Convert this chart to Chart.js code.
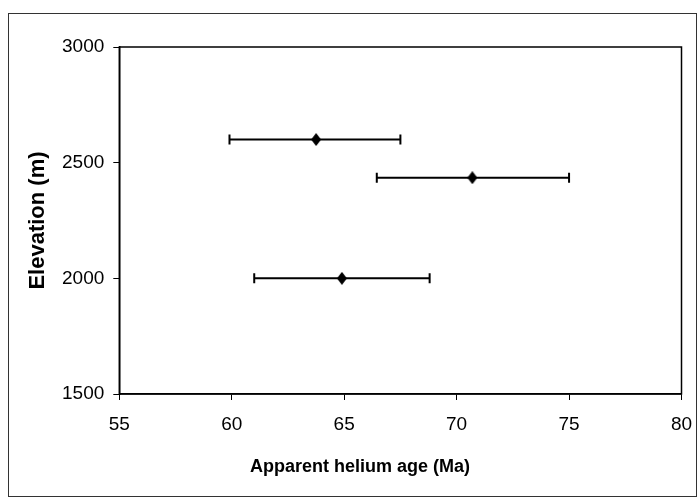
<!DOCTYPE html>
<html>
<head>
<meta charset="utf-8">
<title>Apparent helium age vs elevation</title>
<script src="https://cdn.jsdelivr.net/npm/chart.js@4.4.1/dist/chart.umd.min.js"></script>
<style>
  html, body { margin: 0; padding: 0; background: #fff; }
  #wrap { width: 698px; height: 502px; }
</style>
</head>
<body>
<div id="wrap"><canvas id="chart" width="698" height="502"></canvas></div>
<script>
// --- Data ---
const ages = [63.75, 70.7, 64.9];          // apparent helium age (Ma)
const elevations = [2600, 2435, 2000];     // elevation (m)
const ageLow = [59.9, 66.45, 61.0];        // left end of error bar
const ageHigh = [67.5, 75.0, 68.8];        // right end of error bar

const xTicks = [55, 60, 65, 70, 75, 80];
const yTicks = [1500, 2000, 2500, 3000];
const xTitle = "Apparent helium age (Ma)";
const yTitle = "Elevation (m)";

const FONT = "'Liberation Sans', Arial, sans-serif";

// diamond marker, a bit taller than wide like the scanned one
function makeDiamond(w, h) {
  const c = document.createElement("canvas");
  c.width = w;
  c.height = h;
  const g = c.getContext("2d");
  g.fillStyle = "#000";
  g.beginPath();
  g.moveTo(w / 2, 0);
  g.lineTo(w, h / 2);
  g.lineTo(w / 2, h);
  g.lineTo(0, h / 2);
  g.closePath();
  g.fill();
  return c;
}

// horizontal error bars, drawn under the markers
const errorBars = {
  id: "errorBars",
  beforeDatasetsDraw(chart) {
    const { ctx, scales } = chart;
    ctx.save();
    ctx.strokeStyle = "#000";
    ctx.lineWidth = 2;
    for (let i = 0; i < ages.length; i++) {
      const y = scales.y.getPixelForValue(elevations[i]);
      const x0 = scales.x.getPixelForValue(ageLow[i]);
      const x1 = scales.x.getPixelForValue(ageHigh[i]);
      ctx.beginPath();
      ctx.moveTo(x0, y);
      ctx.lineTo(x1, y);
      ctx.moveTo(x0, y - 5);
      ctx.lineTo(x0, y + 5);
      ctx.moveTo(x1, y - 5);
      ctx.lineTo(x1, y + 5);
      ctx.stroke();
    }
    ctx.restore();
  },
};

// white page, outer frame, plot-area box and the x title
// (the scanned x title sits left of the plot centre, so it is placed by hand)
const frame = {
  id: "frame",
  beforeDraw(chart) {
    const { ctx, width, height } = chart;
    ctx.save();
    ctx.fillStyle = "#fff";
    ctx.fillRect(0, 0, width, height);
    ctx.strokeStyle = "#333";
    ctx.lineWidth = 1;
    ctx.strokeRect(8.5, 13.5, 688, 483);
    ctx.restore();
  },
  afterDraw(chart) {
    const { ctx, chartArea: a } = chart;
    ctx.save();
    ctx.strokeStyle = "#000";
    ctx.lineWidth = 1.5;
    ctx.strokeRect(a.left, a.top, a.right - a.left, a.bottom - a.top);
    ctx.fillStyle = "#000";
    ctx.font = "bold 18px " + FONT;
    ctx.textAlign = "center";
    ctx.textBaseline = "middle";
    ctx.fillText(xTitle, 360, 467);
    ctx.restore();
  },
};

const ctx = document.getElementById("chart").getContext("2d");
new Chart(ctx, {
  type: "scatter",
  data: {
    datasets: [
      {
        label: "Samples",
        data: ages.map((a, i) => ({ x: a, y: elevations[i] })),
        pointStyle: makeDiamond(10, 13),
        pointRadius: 6,
        pointHoverRadius: 6,
        backgroundColor: "#000",
        borderColor: "#000",
      },
    ],
  },
  options: {
    responsive: false,
    animation: false,
    devicePixelRatio: 1,
    layout: { padding: { top: 47, right: 16.5, bottom: 20, left: 22 } },
    plugins: {
      legend: { display: false },
      tooltip: { enabled: false },
    },
    scales: {
      x: {
        type: "linear",
        min: xTicks[0],
        max: xTicks[xTicks.length - 1],
        afterFit(scale) {
          scale.height = 88;
          // label padding must not shrink the plot sideways
          scale.paddingLeft = 0;
          scale.paddingRight = 0;
        },
        afterBuildTicks(scale) {
          scale.ticks = xTicks.map((v) => ({ value: v }));
        },
        ticks: {
          color: "#000",
          padding: 13,
          maxRotation: 0,
          font: { family: FONT, size: 19 },
          callback: (v) => String(v),
        },
        grid: {
          drawOnChartArea: false,
          drawTicks: true,
          tickLength: 6,
          color: "#000",
        },
        border: { display: true, color: "#000", width: 1.5 },
      },
      y: {
        type: "linear",
        min: yTicks[0],
        max: yTicks[yTicks.length - 1],
        afterFit(scale) {
          scale.width = 97.3;
        },
        afterBuildTicks(scale) {
          scale.ticks = yTicks.map((v) => ({ value: v }));
        },
        ticks: {
          color: "#000",
          padding: 9,
          font: { family: FONT, size: 19 },
          callback: (v) => String(v),
        },
        grid: {
          drawOnChartArea: false,
          drawTicks: true,
          tickLength: 6,
          color: "#000",
        },
        border: { display: true, color: "#000", width: 1.5 },
        title: {
          display: true,
          text: yTitle,
          color: "#000",
          font: { family: FONT, size: 22, weight: "bold" },
          padding: { top: 3, bottom: 0 },
        },
      },
    },
  },
  plugins: [frame, errorBars],
});
</script>
</body>
</html>
